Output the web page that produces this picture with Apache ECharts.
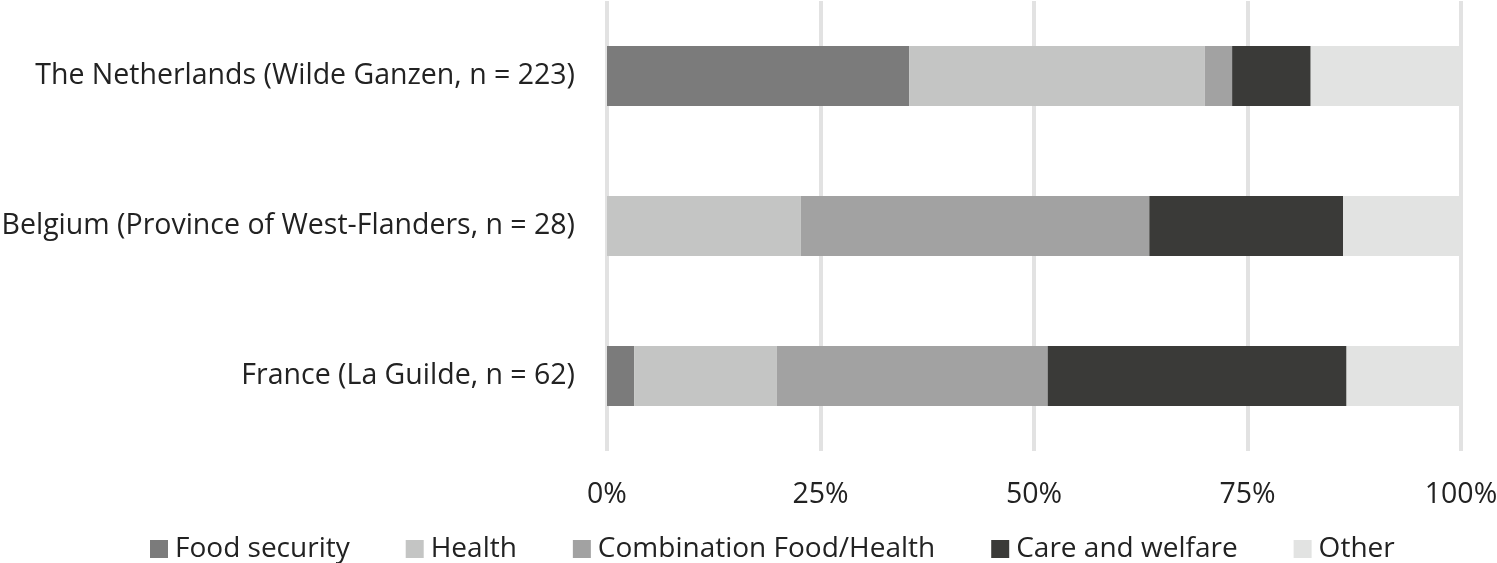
<!DOCTYPE html>
<html><head><meta charset="utf-8">
<script src="https://cdn.jsdelivr.net/npm/echarts@6/dist/echarts.min.js"></script>
<style>html,body{margin:0;padding:0;background:#fff}#c{width:1497px;height:563px}</style>
</head><body><div id="c"></div>
<script>
const categories = ['France (La Guilde, n = 62)', 'Belgium (Province of West-Flanders, n = 28)', 'The Netherlands (Wilde Ganzen, n = 223)'];
const seriesNames = ['Food security', 'Health', 'Combination Food/Health', 'Care and welfare', 'Other'];
const foodSecurity = [3.2, 0, 35.4];
const health = [16.7, 22.7, 34.6];
const combination = [31.7, 40.8, 3.2];
const careWelfare = [35.0, 22.7, 9.2];
const other = [13.4, 13.8, 17.6];
const xTicks = ['0%', '25%', '50%', '75%', '100%'];
const colors = ['#7b7b7b', '#c4c5c4', '#a2a2a2', '#3a3a38', '#e2e3e2'];
const allData = [foodSecurity, health, combination, careWelfare, other];
const font = 'Open Sans';
const fs = 28.5;
const chart = echarts.init(document.getElementById('c'));
chart.setOption({
  animation: false,
  grid: {left: 607, right: 36, top: 1, bottom: 112, outerBoundsMode: 'none', containLabel: false},
  legend: {
    data: seriesNames, top: 530, left: 145, icon: 'rect', itemWidth: 18, itemHeight: 18, itemGap: 56,
    textStyle: {fontFamily: font, fontSize: 28, color: '#222', lineHeight: 28, padding: [0,0,0,2]}
  },
  xAxis: {
    type: 'value', min: 0, max: 100, interval: 25,
    axisLine: {show: false}, axisTick: {show: false},
    splitLine: {lineStyle: {color: '#e2e2e2', width: 4}},
    axisLabel: {fontFamily: font, fontSize: fs, color: '#222', margin: 29, formatter: v => xTicks[v / 25]}
  },
  yAxis: {
    type: 'category', data: categories,
    axisLine: {show: false}, axisTick: {show: false},
    axisLabel: {fontFamily: font, fontSize: fs, color: '#222', margin: 32}
  },
  series: seriesNames.map((n, i) => ({
    name: n, type: 'bar', stack: 'total', barWidth: '40%', data: allData[i],
    itemStyle: {color: colors[i]}
  }))
});
</script></body></html>
